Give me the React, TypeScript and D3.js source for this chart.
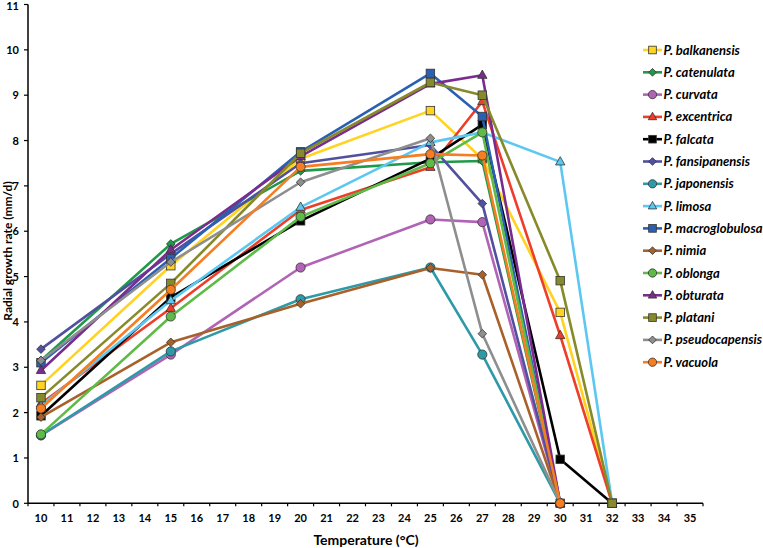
import React from "react";
import * as d3 from "d3";

const temps = [10, 15, 20, 25, 27, 30, 32];
const xTicks = d3.range(10, 36);
const yTicks = d3.range(0, 12);

const species = [
  "P. balkanensis", "P. catenulata", "P. curvata", "P. excentrica", "P. falcata",
  "P. fansipanensis", "P. japonensis", "P. limosa", "P. macroglobulosa", "P. nimia",
  "P. oblonga", "P. obturata", "P. platani", "P. pseudocapensis", "P. vacuola",
];

// values at temps 10,15,20,25,27,30,32 (null = no point)
const balkanensis = [2.6, 5.24, 7.6, 8.66, 7.6, 4.21, 0];
const catenulata = [3.15, 5.72, 7.33, 7.52, 7.55, 0, null];
const curvata = [1.5, 3.28, 5.2, 6.26, 6.2, 0, null];
const excentrica = [2.2, 4.3, 6.47, 7.41, 8.86, 3.7, 0];
const falcata = [1.93, 4.54, 6.23, 7.6, 8.35, 0.97, 0];
const fansipanensis = [3.4, 5.5, 7.5, 7.9, 6.61, 0, null];
const japonensis = [1.5, 3.35, 4.5, 5.2, 3.28, 0, null];
const limosa = [2.15, 4.47, 6.53, 7.96, 8.18, 7.53, 0];
const macroglobulosa = [3.1, 5.4, 7.75, 9.48, 8.53, 0, null];
const nimia = [1.9, 3.55, 4.4, 5.19, 5.04, 0, null];
const oblonga = [1.52, 4.12, 6.32, 7.5, 8.18, 0, null];
const obturata = [2.93, 5.59, 7.65, 9.25, 9.44, 0, null];
const platani = [2.33, 4.85, 7.72, 9.28, 9.0, 4.91, 0];
const pseudocapensis = [3.15, 5.32, 7.08, 8.05, 3.74, 0, null];
const vacuola = [2.09, 4.71, 7.42, 7.7, 7.67, 0, null];

const seriesValues = [
  balkanensis, catenulata, curvata, excentrica, falcata, fansipanensis, japonensis,
  limosa, macroglobulosa, nimia, oblonga, obturata, platani, pseudocapensis, vacuola,
];

const colors = [
  "#FFD320", "#1F9A48", "#B164B5", "#EE3E2A", "#000000", "#51509F", "#2E9AA8",
  "#5CC8F2", "#2A60B4", "#A8612A", "#5EBB47", "#7B2B8E", "#878A2B", "#8E8E8E", "#F57D22",
];
const shapes = [
  "square", "diamond", "circle", "triangle", "square", "diamond", "circle",
  "triangle", "square", "diamond", "circle", "triangle", "square", "diamond", "circle",
];

const FONT = "Lato, 'Open Sans', sans-serif";

function Marker({ shape, x, y, fill, size = 1 }: any) {
  const stroke = "#333";
  const sw = 0.8;
  if (shape === "square") {
    const s = 8.5 * size;
    return <rect x={x - s / 2} y={y - s / 2} width={s} height={s} fill={fill} stroke={stroke} strokeWidth={sw} />;
  }
  if (shape === "circle") {
    return <circle cx={x} cy={y} r={4.6 * size} fill={fill} stroke={stroke} strokeWidth={sw} />;
  }
  if (shape === "diamond") {
    const r = 4.3 * size;
    return <path d={`M${x},${y - r}L${x + r},${y}L${x},${y + r}L${x - r},${y}Z`} fill={fill} stroke={stroke} strokeWidth={sw} />;
  }
  const r = 5.2 * size;
  return <path d={`M${x},${y - r}L${x + r * 0.9},${y + r * 0.6}L${x - r * 0.9},${y + r * 0.6}Z`} fill={fill} stroke={stroke} strokeWidth={sw} />;
}

export default function App() {
  const width = 763;
  const height = 548;
  const x = d3.scaleLinear().domain([9.5, 35.5]).range([28, 703]);
  const y = d3.scaleLinear().domain([0, 11]).range([503.3, 4.5]);

  const line = d3
    .line<[number, number | null]>()
    .defined((d) => d[1] !== null)
    .x((d) => x(d[0]))
    .y((d) => y(d[1] as number));

  const legendX = 643;
  const legendY0 = 50;
  const legendDy = 22.3;

  return (
    <svg width={width} height={height} style={{ position: "absolute", left: 0, top: 0, background: "#fff" }}>
      {/* axes */}
      <line x1={x(9.5)} x2={x(35.5)} y1={y(0)} y2={y(0)} stroke="#000" strokeWidth={1.5} />
      <line x1={x(9.5)} x2={x(9.5)} y1={y(0)} y2={y(11)} stroke="#000" strokeWidth={1.5} />
      {d3.range(9.5, 36, 1).map((t) => (
        <line key={"xt" + t} x1={x(t)} x2={x(t)} y1={y(0)} y2={y(0) + 3} stroke="#000" strokeWidth={1.2} />
      ))}
      {yTicks.map((t) => (
        <line key={"yt" + t} x1={x(9.5) - 4} x2={x(9.5)} y1={y(t)} y2={y(t)} stroke="#000" strokeWidth={1.2} />
      ))}
      {xTicks.map((t) => (
        <text key={"xl" + t} x={x(t)} y={y(0) + 19} textAnchor="middle" fontFamily={FONT} fontWeight="bold" fontSize={11} fill="#000">
          {t}
        </text>
      ))}
      {yTicks.map((t) => (
        <text key={"yl" + t} x={19} y={Math.max(y(t) + 4.2, 10)} textAnchor="end" fontFamily={FONT} fontWeight="bold" fontSize={11} fill="#000">
          {t}
        </text>
      ))}
      <text x={366} y={545} textAnchor="middle" fontFamily={FONT} fontWeight="bold" fontSize={14} fill="#000">
        Temperature (°C)
      </text>
      <text transform={`translate(11.5,251) rotate(-90)`} textAnchor="middle" fontFamily={FONT} fontWeight="bold" fontSize={12} fill="#000">
        Radial growth rate (mm/d)
      </text>

      {/* series */}
      {seriesValues.map((vals, i) => {
        const pts = temps.map((t, j) => [t, vals[j]] as [number, number | null]);
        return (
          <g key={"s" + i}>
            <path d={line(pts) || ""} fill="none" stroke={colors[i]} strokeWidth={2.6} strokeLinejoin="round" />
            {pts
              .filter((p) => p[1] !== null)
              .map((p, j) => (
                <Marker key={j} shape={shapes[i]} x={x(p[0])} y={y(p[1] as number)} fill={colors[i]} />
              ))}
          </g>
        );
      })}

      {/* legend */}
      {species.map((s, i) => {
        const ly = legendY0 + i * legendDy;
        return (
          <g key={"lg" + i}>
            <line x1={legendX} x2={legendX + 19} y1={ly} y2={ly} stroke={colors[i]} strokeWidth={2.6} />
            <Marker shape={shapes[i]} x={legendX + 9.5} y={ly} fill={colors[i]} size={0.9} />
            <text x={legendX + 20.5} y={ly + 4.5} fontFamily={FONT} fontWeight="bold" fontStyle="italic" fontSize={13} fill="#000">
              {s}
            </text>
          </g>
        );
      })}
    </svg>
  );
}
